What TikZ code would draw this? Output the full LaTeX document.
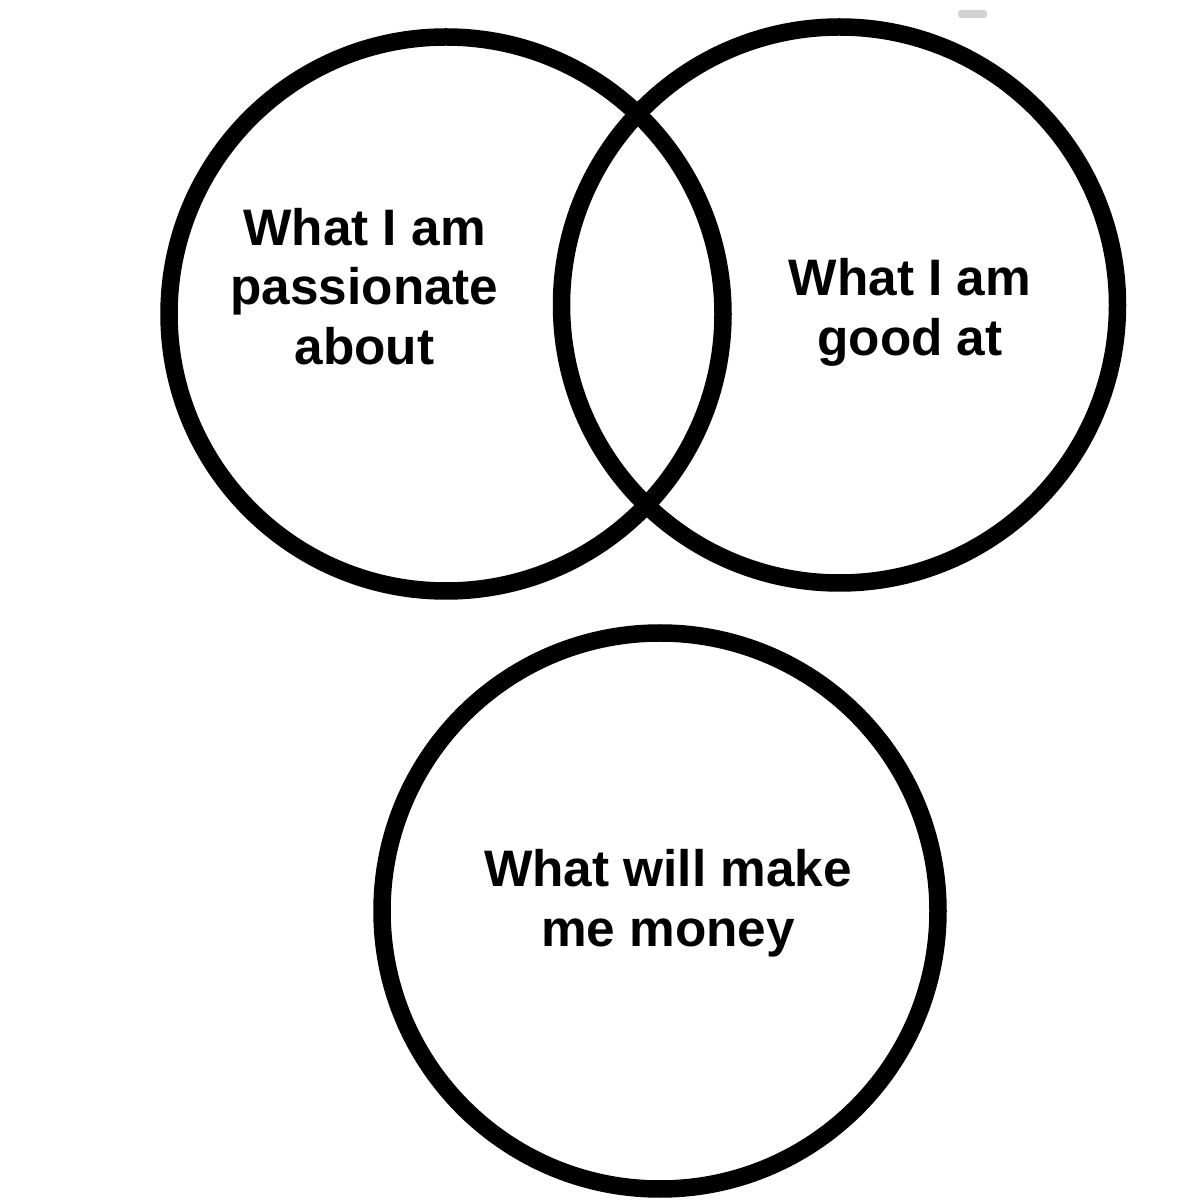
\documentclass[tikz,border=0pt]{standalone}
\usepackage{fontspec}
\setmainfont{Liberation Sans}
\begin{document}
\begin{tikzpicture}
\tikzset{
  ring/.style={draw=black, line width=0.175cm, circle},
  label/.style={align=center, font=\bfseries\fontsize{14.6pt}{17pt}\selectfont, text=black}
}
\useasboundingbox (0,0) rectangle (12,12);
\fill[white] (0,0) rectangle (12,12);
\draw[ring] (4.46,8.86) circle (2.77);
\draw[ring] (8.395,8.95) circle (2.78);
\draw[ring] (6.60,2.89) circle (2.78);
\node[label] (passion) at (3.645,9.135) {What I am\\passionate\\about};
\node[label] (good) at (9.10,8.88) {What I am\\good at};
\node[label] (money) at (6.68,2.97) {What will make\\me money};
\fill[gray!35, rounded corners=0.03cm] (9.58,11.82) rectangle (9.87,11.90);
\end{tikzpicture}
\end{document}
